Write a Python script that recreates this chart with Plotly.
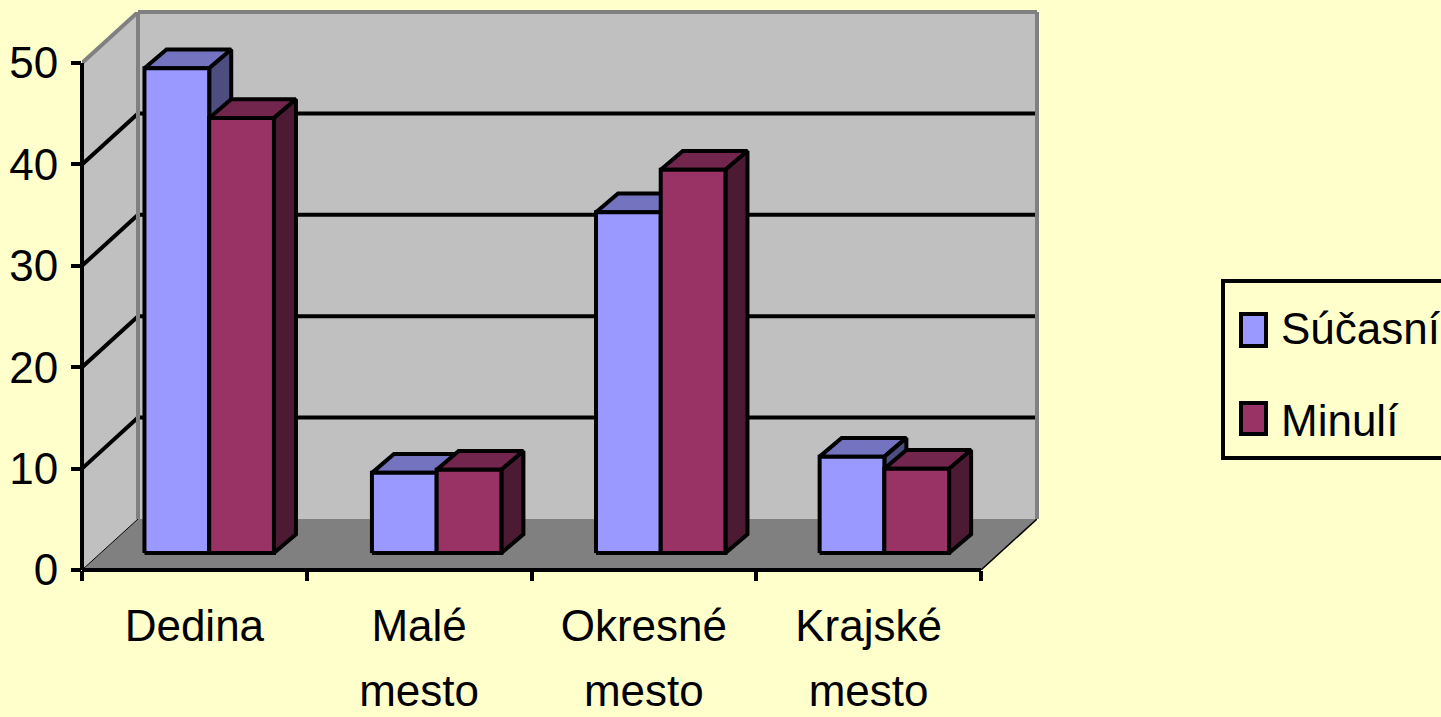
import plotly.graph_objects as go

categories = ['Dedina', 'Malé', 'Okresné', 'Krajské']
categories_line2 = ['', 'mesto', 'mesto', 'mesto']
series_names = ['Súčasní', 'Minulí']
current = [47.8, 7.9, 33.6, 9.5]
past = [42.9, 8.2, 37.8, 8.3]
y_ticks = [0, 10, 20, 30, 40, 50]

BG = '#FFFFCC'
WALL = '#C0C0C0'
FLOOR = '#808080'
# front, top, side
BLUES = ['#9999FF', '#7373BF', '#4D4D80']
REDS = ['#993366', '#73264D', '#4D1A33']
FONT = 'Liberation Sans, Arial, sans-serif'
FS = 44

# pixel box of the plot area inside the 1441x717 page
LEFT, RIGHT, TOP, BOTTOM = 82, 1037, 12, 570
X_MAX = (RIGHT - LEFT) / 224.75
Y_MAX = (BOTTOM - TOP) / 10.14

# oblique depth of the chart box and of one bar, in axis units
DEPTH_X = X_MAX - 4
DEPTH_Y = Y_MAX - 50
BAR_DX = 0.098
BAR_DY = 1.85
BAR_BASE = 1.68
GROUP_START = [0.278, 0.29, 0.287, 0.282]
BAR_W = 0.288
LW = 4


def poly(traces, xs, ys, fill, line='black', width=LW):
    traces.append(go.Scatter(x=xs, y=ys, mode='lines', fill='toself', fillcolor=fill,
                             line=dict(color=line, width=width), showlegend=False,
                             hoverinfo='skip', cliponaxis=False))


def seg(traces, xs, ys, color='black', width=LW):
    traces.append(go.Scatter(x=xs, y=ys, mode='lines', line=dict(color=color, width=width),
                             showlegend=False, hoverinfo='skip', cliponaxis=False))


def bars(traces, values, colors, shift):
    for i, v in enumerate(values):
        x0 = i + GROUP_START[i] + shift
        x1 = x0 + BAR_W
        y0 = BAR_BASE
        y1 = BAR_BASE + v
        poly(traces, [x0, x1, x1 + BAR_DX, x0 + BAR_DX, x0], [y1, y1, y1 + BAR_DY, y1 + BAR_DY, y1], colors[1])
        poly(traces, [x1, x1 + BAR_DX, x1 + BAR_DX, x1, x1], [y0, y0 + BAR_DY, y1 + BAR_DY, y1, y0], colors[2])
        poly(traces, [x0, x1, x1, x0, x0], [y0, y0, y1, y1, y0], colors[0])


data = []

# walls and floor
poly(data, [DEPTH_X, X_MAX, X_MAX, DEPTH_X, DEPTH_X], [DEPTH_Y, DEPTH_Y, Y_MAX, Y_MAX, DEPTH_Y], WALL, 'rgba(0,0,0,0)', 0)
poly(data, [0, DEPTH_X, DEPTH_X, 0, 0], [0, DEPTH_Y, Y_MAX, 50, 0], WALL, 'rgba(0,0,0,0)', 0)
for t in y_ticks[1:-1]:
    seg(data, [0, DEPTH_X, X_MAX], [t, t + DEPTH_Y, t + DEPTH_Y])
poly(data, [0, DEPTH_X, X_MAX, 4, 0], [0, DEPTH_Y, DEPTH_Y, 0, 0], FLOOR, 'rgba(0,0,0,0)', 0)
seg(data, [4, X_MAX], [0, DEPTH_Y], 'black', 1.5)
seg(data, [0, DEPTH_X], [0, DEPTH_Y], 'black', 1)
seg(data, [0, DEPTH_X], [50, Y_MAX], FLOOR, LW)
seg(data, [DEPTH_X, DEPTH_X], [DEPTH_Y, Y_MAX], FLOOR, LW)

bars(data, current, BLUES, 0)
bars(data, past, REDS, BAR_W)

# legend entries, swatches are larger than plotly allows so they sit in shapes
for name in series_names:
    data.append(go.Scatter(x=[None], y=[None], mode='markers', name=name, legendgroup=name, cliponaxis=False,
                           marker=dict(size=1, color='rgba(0,0,0,0)')))

# second line of the category labels, the spacing is wider than a plain <br>
data.append(go.Scatter(x=[None], y=[None], xaxis='x2', showlegend=False, hoverinfo='skip', cliponaxis=False))

fig = go.Figure(data)


def px_x(p):
    return (p - LEFT) / (RIGHT - LEFT)


def px_y(p):
    return (BOTTOM - p) / (BOTTOM - TOP)


def box(x0, x1, y0, y1, fill):
    return dict(type='rect', xref='paper', yref='paper', x0=px_x(x0), x1=px_x(x1), y0=px_y(y0), y1=px_y(y1),
                fillcolor=fill, line=dict(color='black', width=LW), layer='above')


# lines that lie on the edge of the plot area get clipped as traces, paper shapes do not
def edge(x0, y0, x1, y1, color):
    return dict(type='line', xref='paper', yref='paper', x0=x0 / X_MAX, x1=x1 / X_MAX, y0=y0 / Y_MAX, y1=y1 / Y_MAX,
                line=dict(color=color, width=LW), layer='above')


label_pos = [i + 0.5 for i in range(len(categories))]

fig.update_layout(
    width=1441, height=717, autosize=False,
    margin=dict(l=LEFT, r=1441 - RIGHT, t=TOP, b=717 - BOTTOM, pad=0, autoexpand=False),
    paper_bgcolor=BG, plot_bgcolor=BG,
    font=dict(family=FONT, size=FS, color='black'),
    showlegend=True,
    legend=dict(x=px_x(1223), xanchor='left', y=px_y(292), yanchor='top', bgcolor='rgba(0,0,0,0)',
                borderwidth=0, itemwidth=48, tracegroupgap=32, traceorder='grouped',
                font=dict(family=FONT, size=FS)),
    shapes=[edge(DEPTH_X, Y_MAX, X_MAX, Y_MAX, FLOOR),
            edge(X_MAX, Y_MAX, X_MAX, DEPTH_Y, FLOOR),
            edge(0, 0, 4, 0, 'black'),
            edge(0, 0, 0, 50, 'black'),
            box(1223, 1460, 281, 458, 'rgba(0,0,0,0)'),
            box(1241, 1266, 314, 346, BLUES[0]),
            box(1241, 1266, 403, 434, REDS[0])],
    xaxis=dict(range=[0, X_MAX], tickmode='array', tickvals=label_pos,
               ticktext=categories, ticks='', showgrid=False, showline=False, zeroline=False,
               tickangle=0, ticklabelstandoff=26, fixedrange=True,
               minor=dict(tickmode='linear', tick0=0, dtick=1, ticks='outside', ticklen=10, tickwidth=LW,
                          tickcolor='black', showgrid=False)),
    xaxis2=dict(range=[0, X_MAX], overlaying='x', side='bottom', anchor='y', tickmode='array', tickvals=label_pos,
                ticktext=categories_line2, ticks='', showgrid=False, showline=False, zeroline=False,
                tickangle=0, ticklabelstandoff=91, fixedrange=True),
    yaxis=dict(range=[0, Y_MAX], tickmode='array', tickvals=y_ticks, ticks='outside', ticklen=10, tickwidth=LW,
               tickcolor='black', showgrid=False, showline=False, zeroline=False, ticklabelstandoff=4,
               fixedrange=True),
)

fig.write_html("out.html", config={'displayModeBar': False},
               post_script="document.body.style.margin='0';document.body.style.overflow='hidden';")
